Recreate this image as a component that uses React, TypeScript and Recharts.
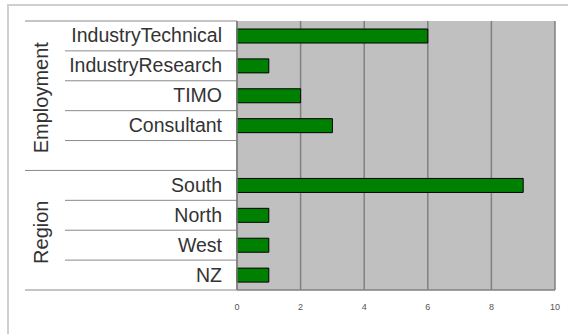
import { Bar, BarChart, CartesianGrid, XAxis, YAxis } from 'recharts'

const EMPLOYMENT_CATS = ['IndustryTechnical', 'IndustryResearch', 'TIMO', 'Consultant', '']
const EMPLOYMENT_VALUES = [6, 1, 2, 3, null]
const REGION_CATS = ['South', 'North', 'West', 'NZ']
const REGION_VALUES = [9, 1, 1, 1]
const GROUPS = ['Employment', 'Region']
const X_TICKS = [0, 2, 4, 6, 8, 10]

const data = [
  ...EMPLOYMENT_CATS.map((name, i) => ({ name, value: EMPLOYMENT_VALUES[i], group: 0 })),
  ...REGION_CATS.map((name, i) => ({ name, value: REGION_VALUES[i], group: 1 })),
]
const groupSizes = [EMPLOYMENT_CATS.length, REGION_CATS.length]

const WIDTH = 568
const HEIGHT = 334
const PLOT_LEFT = 237
const PLOT_TOP = 21
const PLOT_RIGHT = 555
const PLOT_BOTTOM = 290
const BAND = (PLOT_BOTTOM - PLOT_TOP) / data.length
const LINE = '#8a8a8a'
const FONT = 'Liberation Sans, Arial, sans-serif'

function CategoryTick({ y, payload, index }: any) {
  const row = data[index]
  const firstOfGroup = index === 0 || data[index - 1].group !== row.group
  const top = y - BAND / 2
  const bottom = y + BAND / 2
  const isLast = index === data.length - 1
  const nextStartsGroup = !isLast && data[index + 1].group !== row.group
  return (
    <g>
      <text
        x={PLOT_LEFT - 15}
        y={y}
        dy={6.5}
        textAnchor="end"
        fontSize={19.5}
        fontFamily={FONT}
        fill="#333"
      >
        {payload.value}
      </text>
      {firstOfGroup && (
        <>
          <line x1={25} x2={PLOT_LEFT} y1={top} y2={top} stroke={LINE} />
          <text
            transform={`translate(48, ${top + (groupSizes[row.group] * BAND) / 2 + 2}) rotate(-90)`}
            textAnchor="middle"
            fontSize={20}
            fontFamily={FONT}
            fill="#333"
          >
            {GROUPS[row.group]}
          </text>
        </>
      )}
      {!isLast && !nextStartsGroup && (
        <line x1={65} x2={PLOT_LEFT} y1={bottom} y2={bottom} stroke={LINE} />
      )}
      {isLast && <line x1={25} x2={PLOT_LEFT} y1={bottom} y2={bottom} stroke={LINE} />}
    </g>
  )
}

export default function App() {
  return (
    <div style={{ position: 'absolute', left: 0, top: 0, width: WIDTH, height: HEIGHT, background: '#fff' }}>
      <div
        style={{
          position: 'absolute',
          left: 7,
          top: 4,
          right: 0,
          bottom: 0,
          borderTop: '2px solid #cfcfcf',
          borderLeft: '2px solid #cfcfcf',
        }}
      />
      <BarChart
        width={WIDTH}
        height={HEIGHT}
        data={data}
        layout="vertical"
        margin={{ top: PLOT_TOP, right: WIDTH - PLOT_RIGHT, bottom: 14, left: 0 }}
        style={{ position: 'absolute', left: 0, top: 0 }}
      >
        <CartesianGrid fill="#c0c0c0" stroke="#808080" strokeWidth={1.5} horizontal={false} />
        <XAxis
          type="number"
          domain={[0, 10]}
          ticks={X_TICKS}
          height={30}
          tickLine={false}
          axisLine={{ stroke: '#808080', strokeWidth: 1.5 }}
          tick={{ fill: '#555', fontSize: 9, fontFamily: FONT }}
          tickMargin={8}
          interval={0}
        />
        <YAxis
          type="category"
          dataKey="name"
          width={PLOT_LEFT}
          tickLine={false}
          axisLine={{ stroke: '#808080', strokeWidth: 1.5 }}
          tick={<CategoryTick />}
          interval={0}
        />
        <Bar dataKey="value" fill="#008000" stroke="#000" strokeWidth={1} barSize={14} isAnimationActive={false} />
      </BarChart>
    </div>
  )
}
